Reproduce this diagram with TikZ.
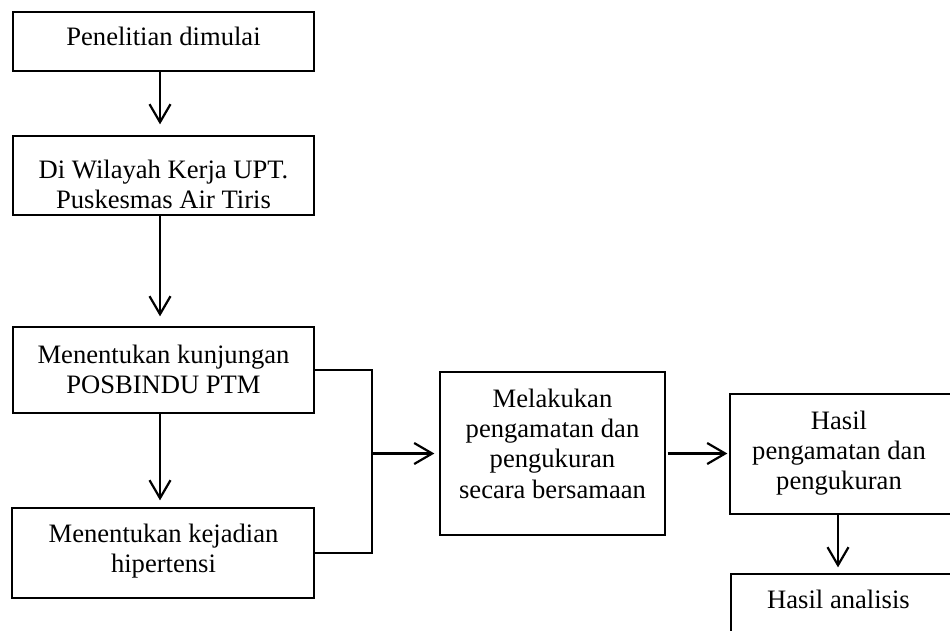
\documentclass[tikz,border=0pt]{standalone}
\usepackage{fontspec}
\setmainfont{Liberation Serif}
\usetikzlibrary{arrows.meta}
\begin{document}
\begin{tikzpicture}[x=1pt,y=-1pt,
  box/.style={draw, line width=1.3pt, inner sep=0pt},
  txt/.style={inner sep=0pt, align=center, anchor=north, font={\fontsize{26.6}{30.3}\selectfont}},
  conn/.style={line width=2.2pt, line join=miter},
  arr/.style={conn, -{Straight Barb[length=18pt,width=21pt,line width=2.2pt]}}]
\useasboundingbox (0,0) rectangle (950,630);
\clip (0,0) rectangle (950,630);
% boxes
\node[box, minimum width=301pt, minimum height=59pt] (b1) at (163.5,41.5) {};
\node[box, minimum width=301pt, minimum height=79pt] (b2) at (163.5,175.5) {};
\node[box, minimum width=301pt, minimum height=86pt] (b3) at (163.5,370) {};
\node[box, minimum width=302pt, minimum height=90pt] (b4) at (163,553) {};
\node[box, minimum width=225pt, minimum height=163pt] (b5) at (552.5,453.5) {};
\node[box, minimum width=230pt, minimum height=120pt] (b6) at (845,454) {};
\node[box, minimum width=229pt, minimum height=86pt] (b7) at (845.5,617) {};
% texts
\node[txt] (t1) at (163.5,26.5) {Penelitian dimulai};
\node[txt] (t2) at (163.5,159.5) {Di Wilayah Kerja UPT.\\Puskesmas Air Tiris};
\node[txt] (t3) at (163.5,344.5) {Menentukan kunjungan\\POSBINDU PTM};
\node[txt] (t4) at (163.5,523.5) {Menentukan kejadian\\hipertensi};
\node[txt] (t5) at (552.5,388.5) {Melakukan\\pengamatan dan\\pengukuran\\secara bersamaan};
\node[txt] (t6) at (839,410.5) {Hasil\\pengamatan dan\\pengukuran};
\node[txt] (t7) at (838.5,589.5) {Hasil analisis};
% connectors
\draw[arr, shorten >=11pt] ([xshift=-3.5pt]b1.south) -- ([xshift=-3.5pt]b2.north);
\draw[arr, shorten >=10pt] ([xshift=-3.5pt]b2.south) -- ([xshift=-3.5pt]b3.north);
\draw[arr, shorten >=7pt] ([xshift=-3.5pt]b3.south) -- ([xshift=-3.5pt]b3.south |- b4.north);
\coordinate (j) at (372,453.5);
\draw[conn] (b3.east) -| (j) |- (b4.east);
\draw[arr, shorten >=5pt] (j) -- (b5.west);
\draw[arr, shorten <=2pt, shorten >=2pt] (b5.east) -- (b5.east -| b6.west);
\coordinate (k) at (838,0);
\draw[arr, shorten >=6pt] (b6.south -| k) -- (b7.north -| k);
\end{tikzpicture}
\end{document}
